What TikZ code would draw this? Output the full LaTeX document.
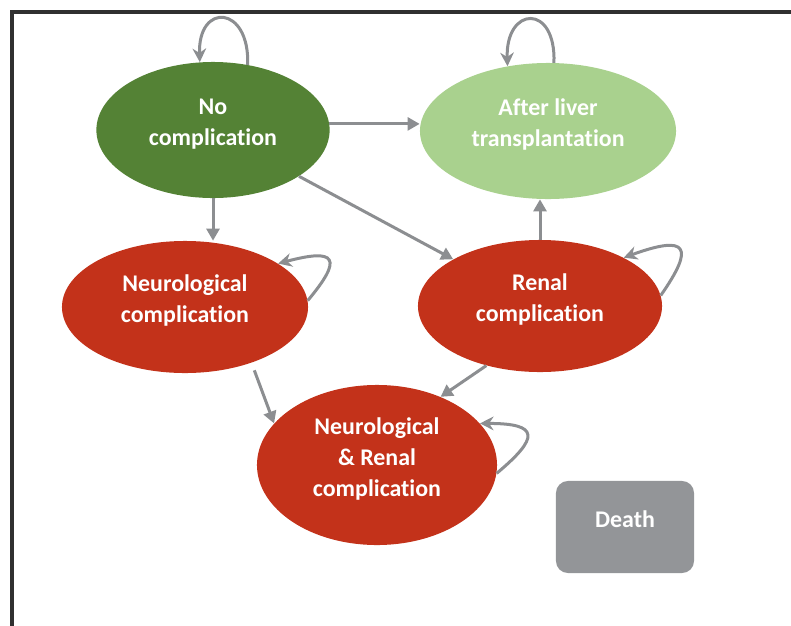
\documentclass[tikz,border=0pt]{standalone}
\usepackage{fontspec}
\setmainfont{Carlito}[Ligatures=NoCommon]
\usetikzlibrary{shapes.geometric}
\usetikzlibrary{arrows.meta}
\definecolor{color_state_none}{HTML}{548235}
\definecolor{color_state_liver}{HTML}{A9D18E}
\definecolor{color_state_compl}{HTML}{C3321A}
\definecolor{color_state_death}{HTML}{939598}
\definecolor{color_arrow}{HTML}{8C8E91}
\definecolor{color_frame}{HTML}{303030}
\def\arrowlinewidth{0.75mm}
\def\statetextlift{0.15cm}
\def\statetext#1{\raisebox{\statetextlift}[\height][\depth]{\begin{tabular}{@{}c@{}}#1\end{tabular}}}
\tikzset{
    state/.style={ellipse, fill=#1, inner sep=0pt, text=white,
        font=\bfseries\fontsize{17}{22}\selectfont},
    move/.style={color_arrow, line width=\arrowlinewidth,
        -{Triangle[length=3mm,width=3.2mm]}},
    stay/.style={color_arrow, line width=\arrowlinewidth,
        -{Stealth[length=3.4mm,width=3.4mm]}}
}

\begin{document}
\begin{tikzpicture}[x=0.025cm,y=-0.025cm]
        \useasboundingbox (0,0) rectangle (791,626);
        \draw[color_frame, line width=0.08cm] (12,626) -- (12,12) -- (791,12);
        % the states
        \node[state=color_state_none, minimum width=5.83cm, minimum height=3.4cm] (nocomp) at (213,130) {\statetext{No\\complication}};
        \node[state=color_state_liver, minimum width=6.4cm, minimum height=3.4cm] (liver) at (548,131) {\statetext{After liver\\transplantation}};
        \node[state=color_state_compl, minimum width=6.15cm, minimum height=3.3cm] (neuro) at (185,307) {\statetext{Neurological\\complication}};
        \node[state=color_state_compl, minimum width=6.1cm, minimum height=3.3cm] (renal) at (540,306) {\statetext{Renal\\complication}};
        \node[state=color_state_compl, minimum width=6.0cm, minimum height=4.0cm] (both) at (377,465) {\statetext{Neurological\\\& Renal\\complication}};
        \node[state=color_state_death, rectangle, rounded corners=0.3cm, minimum width=3.45cm, minimum height=2.3cm] (death) at (625,527) {\statetext{Death}};
        % transitions
        \draw[move] (nocomp.3) -- (nocomp.3 -| liver.west);
        \draw[move] (nocomp.south) -- (nocomp.south |- neuro.north);
        \draw[move] (nocomp) -- (renal);
        \draw[move] (renal.north) -- (renal.north |- liver.south);
        \draw[move, shorten <=0.2cm] (neuro.-40) -- (both.158);
        \draw[move] (renal.228) -- (both.47);
        % staying in the same state
        \foreach \st/\a/\b/\oa/\ob/\la/\lb in {nocomp/62/101/88/92/1.5/1.5, liver/85/122/88/92/1.5/1.5,
                neuro/3/25/50/15/1.4/1.5, renal/5/30/55/20/1.5/1.7, both/-4/22/40/0/1.4/1.5}
            \draw[stay] (\st.\a) .. controls +(\oa:\la cm) and +(\ob:\lb cm) .. (\st.\b);
    \end{tikzpicture}
\end{document}
